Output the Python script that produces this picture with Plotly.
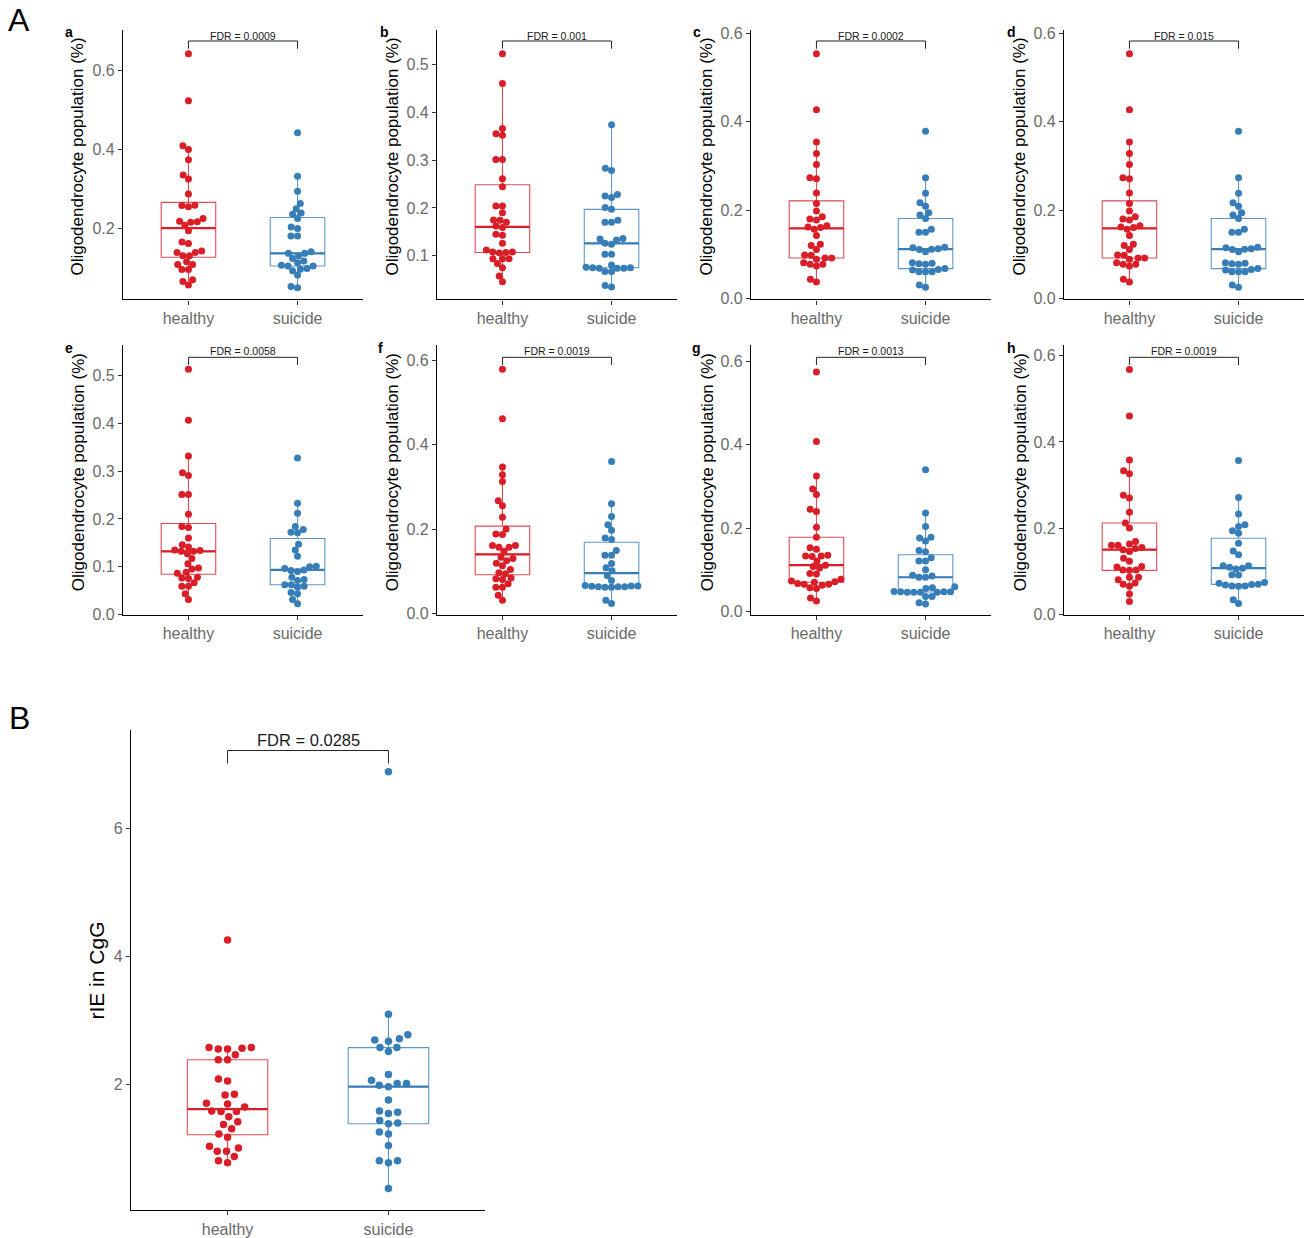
import numpy as np
import plotly.graph_objects as go

# ---------------- data ----------------
categories = ["healthy", "suicide"]
panel_ids = ["a", "b", "c", "d", "e", "f", "g", "h"]
fdr_text = ["FDR = 0.0009", "FDR = 0.001", "FDR = 0.0002", "FDR = 0.015",
            "FDR = 0.0058", "FDR = 0.0019", "FDR = 0.0013", "FDR = 0.0019"]
fdr_B = "FDR = 0.0285"

a_healthy = [0.642, 0.523, 0.409, 0.400, 0.374, 0.335, 0.325, 0.287, 0.259, 0.258, 0.255,
             0.225, 0.218, 0.217, 0.216, 0.208, 0.194, 0.166, 0.162, 0.143, 0.139, 0.139,
             0.131, 0.131, 0.116, 0.109, 0.109, 0.096, 0.096, 0.070, 0.066, 0.057]
a_suicide = [0.442, 0.332, 0.294, 0.263, 0.250, 0.239, 0.236, 0.225, 0.204, 0.200, 0.181,
             0.181, 0.141, 0.137, 0.137, 0.131, 0.124, 0.118, 0.113, 0.107, 0.105, 0.105,
             0.099, 0.097, 0.093, 0.082, 0.053, 0.050]

b_healthy = [0.522, 0.460, 0.366, 0.355, 0.352, 0.301, 0.301, 0.261, 0.244, 0.204, 0.204,
             0.190, 0.175, 0.174, 0.170, 0.162, 0.159, 0.145, 0.143, 0.126, 0.112, 0.108,
             0.107, 0.106, 0.108, 0.094, 0.094, 0.094, 0.084, 0.075, 0.058, 0.046]
b_suicide = [0.374, 0.283, 0.278, 0.228, 0.225, 0.222, 0.201, 0.197, 0.174, 0.170, 0.170,
             0.136, 0.135, 0.133, 0.126, 0.124, 0.103, 0.103, 0.081, 0.076, 0.075, 0.075,
             0.074, 0.074, 0.074, 0.067, 0.067, 0.038, 0.035]

c_healthy = [0.553, 0.427, 0.354, 0.328, 0.303, 0.273, 0.271, 0.239, 0.215, 0.198, 0.185,
             0.180, 0.178, 0.165, 0.162, 0.161, 0.157, 0.143, 0.123, 0.120, 0.111, 0.099,
             0.098, 0.092, 0.092, 0.089, 0.081, 0.078, 0.078, 0.074, 0.044, 0.038]
c_suicide = [0.378, 0.273, 0.238, 0.217, 0.209, 0.194, 0.189, 0.181, 0.157, 0.150, 0.150,
             0.116, 0.115, 0.113, 0.112, 0.111, 0.106, 0.081, 0.080, 0.078, 0.079,
             0.068, 0.066, 0.065, 0.061, 0.061, 0.061, 0.031, 0.026]

d_healthy = list(c_healthy)
d_suicide = list(c_suicide)

e_healthy = [0.514, 0.407, 0.332, 0.297, 0.291, 0.251, 0.251, 0.210, 0.184, 0.182, 0.160,
             0.146, 0.141, 0.135, 0.134, 0.132, 0.132, 0.127, 0.117, 0.106, 0.097, 0.095,
             0.088, 0.086, 0.078, 0.076, 0.075, 0.066, 0.059, 0.059, 0.043, 0.031]
e_suicide = [0.328, 0.233, 0.212, 0.184, 0.178, 0.172, 0.171, 0.147, 0.135, 0.122, 0.101,
             0.093, 0.092, 0.096, 0.100, 0.090, 0.078, 0.073, 0.071, 0.062, 0.057, 0.059,
             0.062, 0.043, 0.046, 0.031, 0.022]

f_healthy = [0.579, 0.462, 0.347, 0.329, 0.313, 0.267, 0.255, 0.228, 0.200, 0.188, 0.187,
             0.161, 0.161, 0.157, 0.157, 0.147, 0.133, 0.130, 0.125, 0.119, 0.113, 0.104,
             0.096, 0.094, 0.084, 0.082, 0.080, 0.070, 0.062, 0.062, 0.043, 0.031]
f_suicide = [0.360, 0.260, 0.230, 0.210, 0.197, 0.179, 0.175, 0.149, 0.138, 0.138, 0.118,
             0.108, 0.101, 0.090, 0.078, 0.066, 0.065, 0.064, 0.063, 0.063, 0.062, 0.062,
             0.063, 0.065, 0.031, 0.023]

g_healthy = [0.575, 0.408, 0.325, 0.294, 0.281, 0.245, 0.240, 0.202, 0.178, 0.153, 0.149,
             0.135, 0.133, 0.133, 0.132, 0.121, 0.111, 0.108, 0.104, 0.091, 0.090, 0.077,
             0.073, 0.071, 0.070, 0.067, 0.065, 0.065, 0.063, 0.057, 0.055, 0.032, 0.025]
g_suicide = [0.340, 0.236, 0.204, 0.178, 0.176, 0.169, 0.146, 0.143, 0.129, 0.121, 0.121,
             0.100, 0.087, 0.085, 0.082, 0.082, 0.059, 0.055, 0.057, 0.048, 0.047, 0.046,
             0.046, 0.046, 0.046, 0.047, 0.047, 0.036, 0.036, 0.021, 0.018]

h_healthy = [0.568, 0.460, 0.358, 0.333, 0.326, 0.276, 0.270, 0.237, 0.212, 0.200, 0.169,
             0.163, 0.160, 0.160, 0.155, 0.153, 0.150, 0.146, 0.130, 0.123, 0.111, 0.110,
             0.103, 0.103, 0.102, 0.086, 0.086, 0.080, 0.073, 0.070, 0.065, 0.047, 0.030]
h_suicide = [0.357, 0.271, 0.233, 0.208, 0.204, 0.194, 0.188, 0.165, 0.147, 0.138, 0.113,
             0.107, 0.105, 0.109, 0.113, 0.092, 0.091, 0.072, 0.070, 0.068, 0.066, 0.065,
             0.066, 0.069, 0.074, 0.034, 0.025]

B_healthy = [4.26, 2.58, 2.56, 2.57, 2.56, 2.58, 2.47, 2.39, 2.39, 2.09, 2.06, 1.85, 1.84,
             1.71, 1.70, 1.65, 1.59, 1.58, 1.58, 1.50, 1.42, 1.38, 1.31, 1.23, 1.18, 1.04,
             1.01, 0.96, 0.96, 0.88, 0.81, 0.78]
B_suicide = [6.89, 3.10, 2.78, 2.72, 2.70, 2.68, 2.58, 2.58, 2.52, 2.16, 2.07, 2.02, 2.02,
             1.99, 1.97, 1.76, 1.59, 1.57, 1.55, 1.44, 1.40, 1.39, 1.26, 1.23, 1.05, 0.81,
             0.78, 0.81, 0.38]

panel_data = {
    "a": (a_healthy, a_suicide), "b": (b_healthy, b_suicide),
    "c": (c_healthy, c_suicide), "d": (d_healthy, d_suicide),
    "e": (e_healthy, e_suicide), "f": (f_healthy, f_suicide),
    "g": (g_healthy, g_suicide), "h": (h_healthy, h_suicide),
    "B": (B_healthy, B_suicide),
}

# ---------------- styling / layout ----------------
W, H = 1307, 1238
RED = "#DA1E28"
BLUE = "#377EB8"
RED_BOX = "rgba(218,30,40,0.8)"
BLUE_BOX = "rgba(55,126,184,0.8)"
TICKGRAY = "#6a6a6a"
FONT = "Liberation Sans, Arial, Helvetica, sans-serif"

# plot areas in pixels: (left, right, top, bottom)
px_boxes = {
    "a": (123, 363, 31, 301), "b": (437, 677, 31, 301),
    "c": (751, 991, 31, 301), "d": (1064, 1304, 31, 301),
    "e": (123, 363, 347, 617), "f": (437, 677, 347, 617),
    "g": (751, 991, 347, 617), "h": (1064, 1304, 347, 617),
    "B": (131, 485, 732, 1213),
}
# y ranges (lo, hi, dtick, tickformat)
yranges = {
    "a": (0.0206, 0.7027, 0.2, ".1f"), "b": (0.0089, 0.5723, 0.1, ".1f"),
    "c": (-0.0015, 0.6075, 0.2, ".1f"), "d": (-0.0015, 0.6075, 0.2, ".1f"),
    "e": (-0.0014, 0.564, 0.1, ".1f"), "f": (-0.004, 0.636, 0.2, ".1f"),
    "g": (-0.0087, 0.639, 0.2, ".1f"), "h": (-0.0015, 0.624, 0.2, ".1f"),
    "B": (0.0384, 7.545, 2, "d"),
}
title_x = {"a": 78, "b": 393, "c": 707, "d": 1020, "e": 78, "f": 392, "g": 707, "h": 1020}
letter_x = {"a": 69, "b": 384, "c": 697, "d": 1011, "e": 69, "f": 380, "g": 696, "h": 1011}
XR = (0.4, 2.6)

# vertical calibration of the rendered page (observed compression in the capture)
SY, OY = 0.9883, 6.25


def px2x(p):
    return p / W


def px2y(p):
    return 1 - ((p - OY) / SY) / H


def swarm(vals, ppy, spacing):
    vals = np.asarray(vals, float)
    order = np.argsort(vals, kind="stable")
    placed = []
    xs = np.zeros(len(vals))
    for i in order:
        y = vals[i] * ppy
        cands = [0.0]
        for (px, py) in placed:
            dy = abs(py - y)
            if dy < spacing:
                dx = np.sqrt(spacing ** 2 - dy ** 2)
                cands += [px + dx, px - dx]
        cands.sort(key=lambda c: (round(abs(c), 6), c))
        for c in cands:
            if all((c - px) ** 2 + (y - py) ** 2 >= spacing ** 2 - 1e-6 for px, py in placed):
                xs[i] = c
                placed.append((c, y))
                break
    return xs


def box_stats(v):
    v = np.asarray(v, float)
    q1, med, q3 = np.percentile(v, [25, 50, 75])
    iqr = q3 - q1
    lo = v[v >= q1 - 1.5 * iqr].min()
    hi = v[v <= q3 + 1.5 * iqr].max()
    return q1, med, q3, lo, hi


fig = go.Figure()
layout = dict(width=W, height=H, margin=dict(l=0, r=0, t=0, b=0),
              paper_bgcolor="white", plot_bgcolor="white", showlegend=False,
              font=dict(family=FONT))
annotations = []
shapes = []

all_ids = panel_ids + ["B"]
for k, pid in enumerate(all_ids):
    n = k + 1
    xa = "x" if n == 1 else f"x{n}"
    ya = "y" if n == 1 else f"y{n}"
    l, r, t, b = px_boxes[pid]
    lo, hi, dt, tf = yranges[pid]
    big = pid == "B"
    ppy = (b - t) / (hi - lo)
    ppx = (r - l) / (XR[1] - XR[0])
    spacing = 9.3 if big else 6.6
    msize = 7.5 if big else 7

    for ci, (vals, col, bcol) in enumerate(zip(panel_data[pid], (RED, BLUE), (RED_BOX, BLUE_BOX))):
        xc = ci + 1
        q1, med, q3, wlo, whi = box_stats(vals)
        fig.add_trace(go.Box(x=[xc], q1=[q1], median=[med], q3=[q3], lowerfence=[wlo],
                             upperfence=[whi], width=0.5, whiskerwidth=0, boxpoints=False,
                             fillcolor="rgba(255,255,255,0)", line=dict(color=bcol, width=1.1),
                             xaxis=xa, yaxis=ya, hoverinfo="skip", showlegend=False))
        fig.add_trace(go.Scatter(x=[xc - 0.25, xc + 0.25], y=[med, med], mode="lines",
                                 line=dict(color=col, width=2.2), xaxis=xa, yaxis=ya,
                                 hoverinfo="skip", showlegend=False))
        offs = swarm(vals, ppy, spacing) / ppx
        fig.add_trace(go.Scatter(x=xc + offs, y=vals, mode="markers",
                                 marker=dict(color=col, size=msize, line=dict(width=0)),
                                 xaxis=xa, yaxis=ya, showlegend=False))

    tickfont = dict(size=16, color=TICKGRAY, family=FONT)
    layout["xaxis" if n == 1 else f"xaxis{n}"] = dict(
        domain=[px2x(l), px2x(r)], anchor=ya, range=list(XR), tickvals=[1, 2],
        ticktext=categories, showline=True, linecolor="black", linewidth=1.3,
        ticks="outside", ticklen=4, tickwidth=1, tickcolor="#333", tickfont=tickfont,
        showgrid=False, zeroline=False)
    layout["yaxis" if n == 1 else f"yaxis{n}"] = dict(
        domain=[px2y(b), px2y(t)], anchor=xa, range=[lo, hi], dtick=dt, tick0=0,
        tickformat=tf, showline=True, linecolor="black", linewidth=1.3,
        ticks="outside", ticklen=4, tickwidth=1, tickcolor="#333", tickfont=tickfont,
        showgrid=False, zeroline=False)

    # significance bracket
    if big:
        line_y, tip_y, txt_y, fsz, txt = 752.7, 765.7, 742, 16.5, fdr_B
    else:
        row2 = t > 320
        line_y = 359 if row2 else 42.3
        tip_y = 366.7 if row2 else 50
        txt_y = 353 if row2 else 37
        fsz, txt = 10.5, fdr_text[k]
    shapes.append(dict(type="path", xref=xa, yref="paper",
                       path=f"M 1,{px2y(tip_y)} L 1,{px2y(line_y)} L 2,{px2y(line_y)} L 2,{px2y(tip_y)}",
                       line=dict(color="#222", width=1)))
    annotations.append(dict(x=1.5, y=px2y(txt_y), xref=xa, yref="paper", text=txt,
                            showarrow=False, xanchor="center", yanchor="middle",
                            font=dict(size=fsz, color="#1a1a1a", family=FONT)))

    # y-axis titles & panel letters
    if big:
        annotations.append(dict(x=px2x(97), y=px2y(973), xref="paper", yref="paper",
                                text="rIE in CgG", textangle=-90, showarrow=False,
                                xanchor="center", yanchor="middle",
                                font=dict(size=21, color="black", family=FONT)))
    else:
        cy = 474 if t > 320 else 158
        annotations.append(dict(x=px2x(title_x[pid]), y=px2y(cy), xref="paper", yref="paper",
                                text="Oligodendrocyte population (%)", textangle=-90,
                                showarrow=False, xanchor="center", yanchor="middle",
                                font=dict(size=17, color="black", family=FONT)))
        ly = 350 if t > 320 else 33
        annotations.append(dict(x=px2x(letter_x[pid]), y=px2y(ly), xref="paper", yref="paper",
                                text=f"<b>{pid}</b>", showarrow=False, xanchor="center",
                                yanchor="middle", font=dict(size=14, color="black", family=FONT)))

# big section labels
annotations.append(dict(x=px2x(19), y=px2y(21), xref="paper", yref="paper", text="A",
                        showarrow=False, xanchor="center", yanchor="middle",
                        font=dict(size=32, color="black", family=FONT)))
annotations.append(dict(x=px2x(19), y=px2y(720), xref="paper", yref="paper", text="B",
                        showarrow=False, xanchor="center", yanchor="middle",
                        font=dict(size=32, color="black", family=FONT)))

layout["annotations"] = annotations
layout["shapes"] = shapes
fig.update_layout(**layout)
fig.write_html("out.html")
